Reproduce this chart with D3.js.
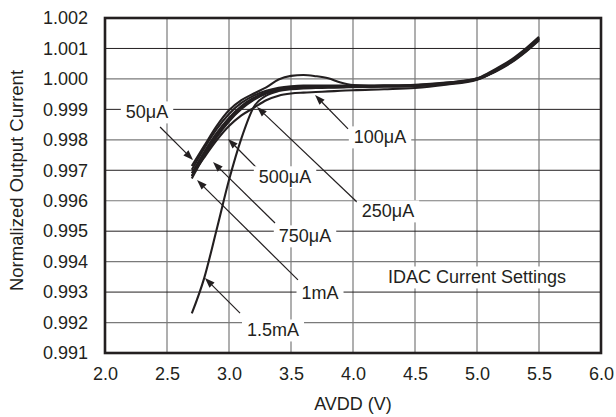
<!DOCTYPE html>
<html>
<head>
<meta charset="utf-8">
<script src="https://cdn.jsdelivr.net/npm/d3@7"></script>
<style>
  html, body { margin: 0; padding: 0; background: #fff; }
  text { font-family: "Liberation Sans", Arial, Helvetica, sans-serif; fill: #231f20; }
</style>
</head>
<body>
<svg id="chart" width="616" height="417"></svg>
<script>
// ---- data ----
const avdd = [2.7, 2.8, 2.9, 3.0, 3.1, 3.2, 3.3, 3.4, 3.5, 3.6, 3.7, 3.8, 3.9, 4.0, 4.25, 4.5, 4.75, 5.0, 5.1, 5.2, 5.3, 5.4, 5.5];
const i50uA  = [0.99714, 0.99780, 0.99845, 0.99897, 0.99930, 0.99952, 0.99972, 0.99998, 1.00010, 1.00013, 1.00009, 1.00002, 0.99988, 0.99980, 0.99977, 0.99978, 0.99986, 1.00002, 1.00021, 1.00044, 1.00070, 1.00102, 1.00138];
const i100uA = [0.99682, 0.99742, 0.99798, 0.99845, 0.99880, 0.99905, 0.99930, 0.99945, 0.99952, 0.99955, 0.99957, 0.99959, 0.99961, 0.99963, 0.99966, 0.99970, 0.99981, 0.99997, 1.00014, 1.00035, 1.00060, 1.00091, 1.00126];
const i250uA = [0.99702, 0.99772, 0.99835, 0.99885, 0.99921, 0.99945, 0.99961, 0.99971, 0.99976, 0.99978, 0.99978, 0.99978, 0.99978, 0.99978, 0.99979, 0.99981, 0.99988, 1.00001, 1.00019, 1.00041, 1.00067, 1.00099, 1.00135];
const i500uA = [0.99690, 0.99760, 0.99822, 0.99872, 0.99911, 0.99938, 0.99956, 0.99967, 0.99973, 0.99975, 0.99976, 0.99976, 0.99976, 0.99976, 0.99977, 0.99979, 0.99987, 1.00000, 1.00018, 1.00040, 1.00066, 1.00097, 1.00133];
const i750uA = [0.99680, 0.99752, 0.99814, 0.99865, 0.99905, 0.99934, 0.99954, 0.99965, 0.99971, 0.99973, 0.99974, 0.99974, 0.99974, 0.99975, 0.99976, 0.99978, 0.99985, 0.99999, 1.00016, 1.00038, 1.00063, 1.00095, 1.00131];
const i1mA   = [0.99673, 0.99746, 0.99808, 0.99860, 0.99901, 0.99931, 0.99952, 0.99964, 0.99970, 0.99972, 0.99973, 0.99973, 0.99973, 0.99974, 0.99975, 0.99977, 0.99984, 0.99998, 1.00015, 1.00037, 1.00062, 1.00093, 1.00129];
const i1p5mA = [0.99230, 0.99346, 0.99505, 0.99668, 0.99805, 0.99908, 0.99945, 0.99960, 0.99966, 0.99969, 0.99970, 0.99971, 0.99972, 0.99973, 0.99975, 0.99977, 0.99985, 1.00000, 1.00017, 1.00039, 1.00065, 1.00097, 1.00133];

const seriesNames = ["50μA", "100μA", "250μA", "500μA", "750μA", "1mA", "1.5mA"];
const seriesValues = [i50uA, i100uA, i250uA, i500uA, i750uA, i1mA, i1p5mA];

const xTicks = [2.0, 2.5, 3.0, 3.5, 4.0, 4.5, 5.0, 5.5, 6.0];
const yTicks = [0.991, 0.992, 0.993, 0.994, 0.995, 0.996, 0.997, 0.998, 0.999, 1.000, 1.001, 1.002];

// annotation: label, label centre (V, value), arrow start (V, value), arrow tip (V, value)
const annLabels = ["50μA", "100μA", "500μA", "250μA", "750μA", "1mA", "1.5mA"];
const annLabelV = [2.339, 4.218, 3.452, 4.282, 3.613, 3.734, 3.355];
const annLabelI = [0.99891, 0.99809, 0.99678, 0.99566, 0.99484, 0.99297, 0.99175];
const annFromV  = [2.444, 3.960, 3.226, 4.032, 3.371, 3.556, 3.089];
const annFromI  = [0.99842, 0.99836, 0.99707, 0.99596, 0.99527, 0.99340, 0.99231];
const annTipV   = [2.710, 3.694, 2.992, 3.226, 2.871, 2.742, 2.806];
const annTipI   = [0.99734, 0.99947, 0.99803, 0.99908, 0.99727, 0.99668, 0.99346];

const noteText = "IDAC Current Settings";
const noteV = 5.0, noteI = 0.99349;

const xTitle = "AVDD (V)";
const yTitle = "Normalized Output Current";

// ---- layout ----
const svg = d3.select("#chart");
const m = { left: 105, right: 601, top: 18, bottom: 353 };
const x = d3.scaleLinear().domain([2.0, 6.0]).range([m.left, m.right]);
const y = d3.scaleLinear().domain([0.991, 1.002]).range([m.bottom, m.top]);

// grid
const grid = svg.append("g");
grid.selectAll("line.v").data(xTicks.slice(1, -1)).enter().append("line")
  .attr("x1", d => x(d)).attr("x2", d => x(d))
  .attr("y1", m.top).attr("y2", m.bottom)
  .attr("stroke", "#7a7a7a").attr("stroke-width", 1.2);
grid.selectAll("line.h").data(yTicks.slice(1, -1)).enter().append("line")
  .attr("x1", m.left).attr("x2", m.right)
  .attr("y1", d => y(d)).attr("y2", d => y(d))
  .attr("stroke", (d, i) => (i % 2 === 0 ? "#7a7a7a" : "#231f20"))
  .attr("stroke-width", (d, i) => (i % 2 === 0 ? 1.2 : 1));

// axes
const xAxis = d3.axisBottom(x).tickValues(xTicks).tickFormat(d3.format(".1f")).tickSize(0).tickPadding(14);
const yAxis = d3.axisLeft(y).tickValues(yTicks).tickFormat(d3.format(".3f")).tickSize(0).tickPadding(17);
const gx = svg.append("g").attr("transform", `translate(0,${m.bottom})`).call(xAxis);
const gy = svg.append("g").attr("transform", `translate(${m.left},0)`).call(yAxis);
[gx, gy].forEach(g => {
  g.select(".domain").remove();
  g.selectAll("text").style("font-size", "18px").attr("fill", "#231f20")
    .style("font-family", '"Liberation Sans", Arial, sans-serif');
});

// titles
svg.append("text").attr("x", (m.left + m.right) / 2).attr("y", 410)
  .attr("text-anchor", "middle").style("font-size", "18px").text(xTitle);
svg.append("text").attr("transform", `translate(23,${(m.top + m.bottom) / 2 - 5}) rotate(-90)`)
  .attr("text-anchor", "middle").style("font-size", "18.5px").text(yTitle);

// curves
const line = d3.line().x(d => x(d[0])).y(d => y(d[1])).curve(d3.curveMonotoneX);
svg.append("g").selectAll("path").data(seriesValues).enter().append("path")
  .attr("d", vals => line(avdd.map((v, i) => [v, vals[i]])))
  .attr("fill", "none").attr("stroke", "#231f20").attr("stroke-width", 2.1)
  .attr("stroke-linejoin", "round").attr("stroke-linecap", "butt");

// annotations
const ann = svg.append("g");
function label(txt, cx, cy) {
  const t = ann.append("text").attr("x", cx).attr("y", cy).attr("dy", "0.35em")
    .attr("text-anchor", "middle").style("font-size", "18px").text(txt);
  const bb = t.node().getBBox();
  ann.insert("rect", () => t.node())
    .attr("x", bb.x - 5).attr("y", bb.y - 1).attr("width", bb.width + 10).attr("height", bb.height + 2)
    .attr("fill", "#fff");
}
annLabels.forEach((lab, i) => {
  const x0 = x(annFromV[i]), y0 = y(annFromI[i]);
  const x1 = x(annTipV[i]), y1 = y(annTipI[i]);
  const ang = Math.atan2(y1 - y0, x1 - x0);
  const L = 10, W = 3.6;
  const bx = x1 - L * Math.cos(ang), by = y1 - L * Math.sin(ang);
  ann.append("line").attr("x1", x0).attr("y1", y0).attr("x2", bx).attr("y2", by)
    .attr("stroke", "#231f20").attr("stroke-width", 1.2);
  ann.append("path")
    .attr("d", `M${x1},${y1} L${bx + W * Math.sin(ang)},${by - W * Math.cos(ang)} L${bx - W * Math.sin(ang)},${by + W * Math.cos(ang)} Z`)
    .attr("fill", "#231f20");
  label(lab, x(annLabelV[i]), y(annLabelI[i]));
});
label(noteText, x(noteV), y(noteI));

// border
svg.append("rect").attr("x", m.left).attr("y", m.top)
  .attr("width", m.right - m.left).attr("height", m.bottom - m.top)
  .attr("fill", "none").attr("stroke", "#231f20").attr("stroke-width", 2.6);
</script>
</body>
</html>
